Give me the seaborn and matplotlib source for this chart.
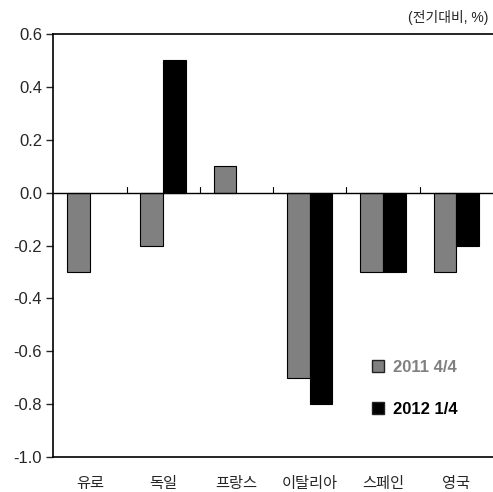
import pandas as pd
import numpy as np
import matplotlib
matplotlib.use('Agg')
import matplotlib.pyplot as plt
import seaborn as sns
from matplotlib.lines import Line2D

countries = ['유로', '독일', '프랑스', '이탈리아', '스페인', '영국']
series_names = ['2011 4/4', '2012 1/4']
q4_2011 = [-0.3, -0.2, 0.1, -0.7, -0.3, -0.3]
q1_2012 = [np.nan, 0.5, np.nan, -0.8, -0.3, -0.2]
y_ticks = [-1.0, -0.8, -0.6, -0.4, -0.2, 0.0, 0.2, 0.4, 0.6]
bar_colors = ['#808080', '#000000']

sns.set_style('white')
plt.rcParams['font.family'] = ['Liberation Sans', 'Noto Sans CJK KR']

data = pd.DataFrame({
    'country': countries * 2,
    'series': [series_names[0]] * len(countries) + [series_names[1]] * len(countries),
    'value': q4_2011 + q1_2012,
})

fig = plt.figure(figsize=(4.93, 4.92), dpi=100)
ax = fig.add_axes([0.108, 0.071, 0.892, 0.86])

sns.barplot(data=data, x='country', y='value', hue='series', order=countries,
            hue_order=series_names, palette=bar_colors, width=0.62,
            edgecolor='black', linewidth=0.8, ax=ax, legend=False)

# zero line with category separators
ax.axhline(0, color='black', linewidth=1.0, zorder=3)
for i in range(len(countries) - 1):
    ax.plot([i + 0.5, i + 0.5], [0, 0.02], color='black', linewidth=0.8, zorder=3)

ax.set_ylim(-1.0, 0.6)
ax.set_xlim(-0.5, len(countries) - 0.5)
ax.set_yticks(y_ticks)
ax.set_yticklabels([f'{v:.1f}' for v in y_ticks], fontsize=12)
ax.tick_params(axis='y', direction='out', length=5, width=1, pad=3, left=True)
ax.tick_params(axis='x', length=0, pad=14, labelsize=11)
ax.set_xlabel('')
ax.set_ylabel('')

for side in ['left', 'bottom', 'top']:
    ax.spines[side].set_visible(True)
    ax.spines[side].set_color('black')
    ax.spines[side].set_linewidth(1.2)
ax.spines['right'].set_visible(False)

handles = [Line2D([], [], marker='s', linestyle='none', markersize=8,
                  markerfacecolor=c, markeredgecolor='#222222', markeredgewidth=1)
           for c in bar_colors]
ax.legend(handles, series_names, loc='lower left', bbox_to_anchor=(0.685, 0.06),
          frameon=False, labelspacing=1.6, handletextpad=0.4, handlelength=1.0,
          prop={'weight': 'bold', 'size': 12}, labelcolor=bar_colors)

fig.text(0.99, 0.965, '(전기대비, %)', ha='right', va='center', fontsize=10)

fig.savefig('out.png', dpi=100)
